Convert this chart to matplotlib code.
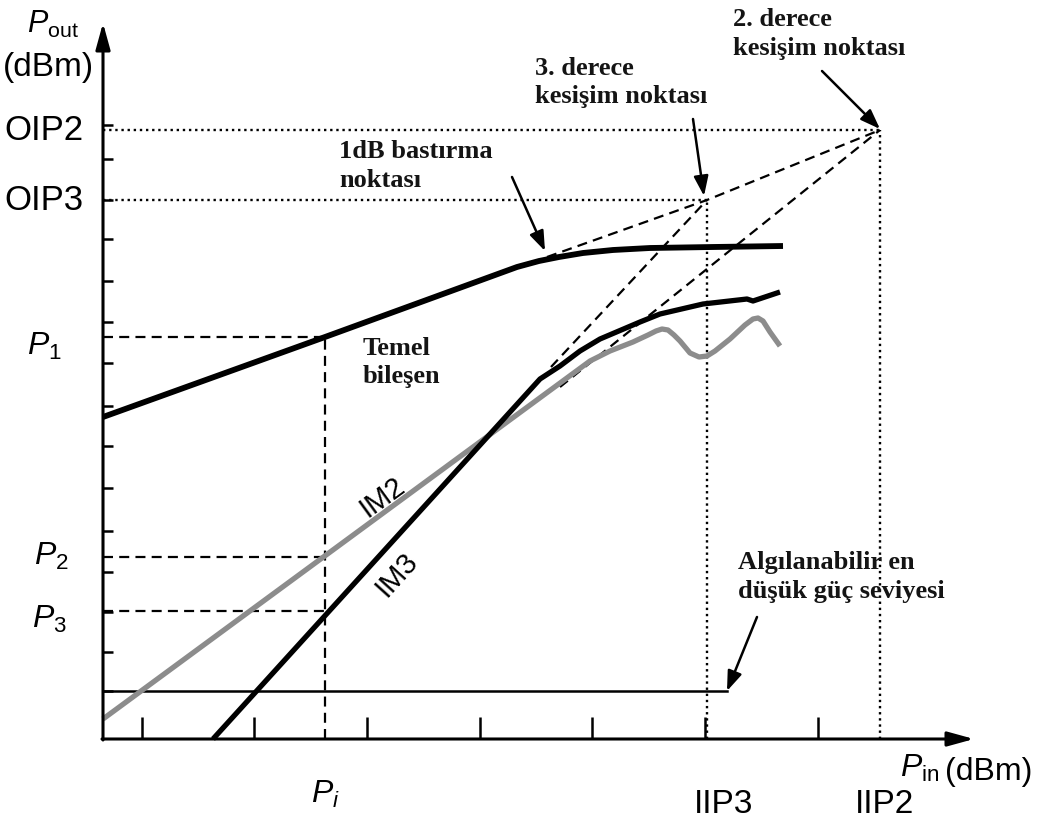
import matplotlib
matplotlib.use("Agg")
import matplotlib.pyplot as plt

plt.rcParams['mathtext.fontset'] = 'custom'
plt.rcParams['mathtext.rm'] = 'Liberation Sans'
plt.rcParams['mathtext.it'] = 'Liberation Sans:italic'
plt.rcParams['font.family'] = ['Liberation Sans', 'DejaVu Sans']

# ---------------- data (Pin, Pout in drawing units, origin at axes corner) -------------
fund_pin = [0, 222, 414, 436, 456, 480, 510, 547, 610, 680]
fund_pout = [322, 402, 472, 478, 482, 486, 489, 491, 492, 493]

im3_pin = [110, 437, 457, 477, 497, 537, 557, 600, 644, 650, 677]
im3_pout = [0, 360, 373, 388, 400, 417, 425, 435, 440, 438, 447]

im2_pin = [0, 487, 507, 530, 545, 553, 559, 565, 571, 577, 587, 596, 604, 612, 627, 642, 650, 655, 660, 667, 677]
im2_pout = [20, 378, 388, 397, 404, 408, 410, 409, 404, 398, 386, 382, 383, 388, 400, 414, 420, 421, 418, 407, 393]

fund_ext_pin = [444, 604, 777]
fund_ext_pout = [482, 539, 609]
im3_ext_pin = [448, 604]
im3_ext_pout = [372, 539]
im2_ext_pin = [457, 777]
im2_ext_pout = [352, 609]

IIP3, OIP3 = 604, 539
IIP2, OIP2 = 777, 609
Pi = 222
P1, P2, P3 = 402, 182, 128
floor_level = 48
floor_end = 624

x_ticks = [39, 151, 264, 377, 489, 602, 715]
y_ticks = [48, 87, 127, 167, 208, 251, 293, 333, 376, 417, 458, 500, 539, 580, 614]

# ---------------- figure ----------------
fig = plt.figure(figsize=(10.43, 8.2), dpi=100)
ax = fig.add_axes([0, 0, 1, 1])
ax.set_xlim(-103, 940)
ax.set_ylim(-80, 740)
ax.axis('off')

dash = (0, (4.5, 2.8))
dot = (0, (1, 1.6))

# axes with arrows
ax.annotate('', xy=(0, 716), xytext=(0, -1),
            arrowprops=dict(arrowstyle='-|>,head_length=0.8,head_width=0.22',
                            mutation_scale=20, lw=2.2, color='k',
                            shrinkA=0, shrinkB=0))
ax.annotate('', xy=(871, 0), xytext=(-1, 0),
            arrowprops=dict(arrowstyle='-|>,head_length=0.8,head_width=0.22',
                            mutation_scale=20, lw=2.2, color='k',
                            shrinkA=0, shrinkB=0))
for t in x_ticks:
    ax.plot([t, t], [0, 22], color='k', lw=1.8, solid_capstyle='butt')
for t in y_ticks:
    ax.plot([0, 10], [t, t], color='k', lw=1.8, solid_capstyle='butt')

# reference lines
ax.plot([0, IIP2], [OIP2, OIP2], color='k', lw=1.7, ls=dot)
ax.plot([0, IIP3], [OIP3, OIP3], color='k', lw=1.7, ls=dot)
ax.plot([IIP3, IIP3], [0, OIP3], color='k', lw=1.7, ls=dot)
ax.plot([IIP2, IIP2], [0, OIP2], color='k', lw=1.7, ls=dot)

ax.plot([0, Pi], [P1, P1], color='k', lw=1.6, ls=dash)
ax.plot([0, Pi], [P2, P2], color='k', lw=1.6, ls=dash)
ax.plot([0, Pi], [P3, P3], color='k', lw=1.6, ls=dash)
ax.plot([Pi, Pi], [0, P1], color='k', lw=1.6, ls=dash)

# floor
ax.plot([0, floor_end], [floor_level, floor_level], color='k', lw=1.8)

# extrapolations
ax.plot(fund_ext_pin, fund_ext_pout, color='k', lw=1.6, ls=dash)
ax.plot(im3_ext_pin, im3_ext_pout, color='k', lw=1.6, ls=dash)
ax.plot(im2_ext_pin, im2_ext_pout, color='k', lw=1.6, ls=dash)

# curves
ax.plot(im2_pin, im2_pout, color='#8c8c8c', lw=3.8, solid_joinstyle='round',
        solid_capstyle='butt')
ax.plot(im3_pin, im3_pout, color='k', lw=3.8, solid_joinstyle='round',
        solid_capstyle='butt')
ax.plot(fund_pin, fund_pout, color='k', lw=4.2, solid_joinstyle='round',
        solid_capstyle='butt')

# callout arrows
arr = dict(arrowstyle='-|>,head_length=0.6,head_width=0.22', mutation_scale=20,
           lw=1.8, color='k', shrinkA=0, shrinkB=0)
ax.annotate('', xy=(442, 488), xytext=(409, 562), arrowprops=arr)
ax.annotate('', xy=(601, 543), xytext=(590, 620), arrowprops=arr)
ax.annotate('', xy=(777, 610), xytext=(719, 668), arrowprops=arr)
ax.annotate('', xy=(624, 48), xytext=(654, 122), arrowprops=arr)

# axis labels (sans)
ax.text(-76, 707, r'$P_{\mathrm{out}}$', fontsize=22, ha='left', va='baseline')
ax.text(-100, 664, '(dBm)', fontsize=24, ha='left', va='baseline')
ax.text(-99, OIP2, 'OIP2', fontsize=25, ha='left', va='center')
ax.text(-99, OIP3, 'OIP3', fontsize=25, ha='left', va='center')
ax.text(-76, 385, r'$P_1$', fontsize=23, ha='left', va='baseline')
ax.text(-69, 175, r'$P_2$', fontsize=23, ha='left', va='baseline')
ax.text(-71, 112, r'$P_3$', fontsize=23, ha='left', va='baseline')
ax.text(Pi, -63, r'$P_i$', fontsize=23, ha='center', va='baseline')
ax.text(IIP3 + 17, -73, 'IIP3', fontsize=24, ha='center', va='baseline')
ax.text(IIP2 + 5, -73, 'IIP2', fontsize=24, ha='center', va='baseline')
ax.text(797, -37, r'$P_{\mathrm{in}}$', fontsize=23, ha='left', va='baseline')
ax.text(842, -40, '(dBm)', fontsize=23, ha='left', va='baseline')

ax.text(279, 243, 'IM2', fontsize=21, rotation=36, ha='center', va='center')
ax.text(294, 165, 'IM3', fontsize=21, rotation=48, ha='center', va='center')

# bold serif annotations
bs = dict(family=['Liberation Serif', 'DejaVu Serif'], fontweight='bold',
          fontsize=19, color='#141414', ha='left', va='baseline')
ax.text(630, 714, '2. derece', **bs)
ax.text(630, 685, 'kesişim noktası', **bs)
ax.text(432, 665, '3. derece', **bs)
ax.text(432, 637, 'kesişim noktası', **bs)
ax.text(236, 582, '1dB bastırma', **bs)
ax.text(236, 553, 'noktası', **bs)
ax.text(260, 385, 'Temel', **bs)
ax.text(260, 357, 'bileşen', **bs)
ax.text(635, 171, 'Algılanabilir en', **bs)
ax.text(635, 142, 'düşük güç seviyesi', **bs)

fig.savefig('out.png', dpi=100, facecolor='white')
